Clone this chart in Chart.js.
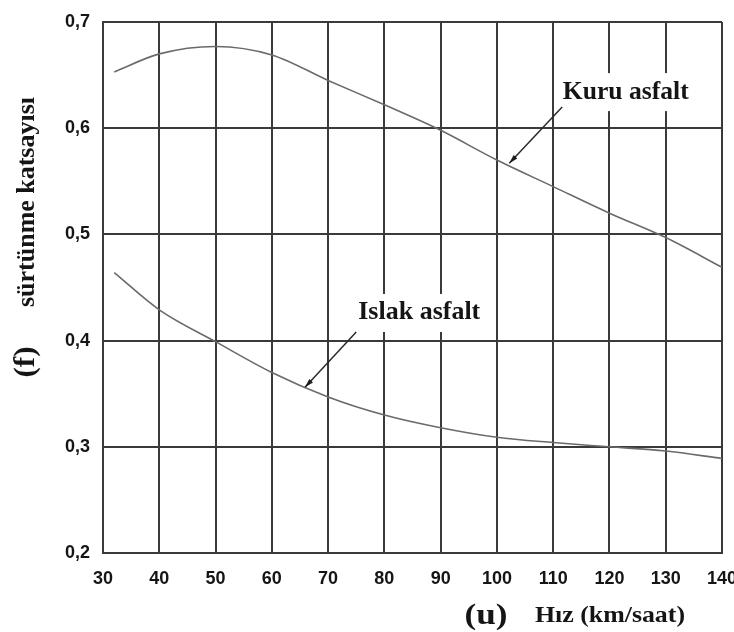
<!DOCTYPE html>
<html>
<head>
<meta charset="utf-8">
<script src="https://cdn.jsdelivr.net/npm/chart.js@4.4.1/dist/chart.umd.min.js"></script>
<style>
    html, body { margin: 0; padding: 0; background: #fff; }
    #wrap { width: 734px; height: 632px; position: relative; }
</style>
</head>
<body>
<div id="wrap"><canvas id="friction-chart"></canvas></div>
<script>
// Values.
const SPEEDS = [32, 40, 50, 60, 70, 80, 90, 100, 110, 120, 130, 140];
const KURU   = [0.653, 0.670, 0.677, 0.669, 0.645, 0.622, 0.598, 0.570, 0.545, 0.520, 0.497, 0.469];
const ISLAK  = [0.464, 0.429, 0.399, 0.370, 0.347, 0.330, 0.318, 0.309, 0.304, 0.300, 0.296, 0.289];

const X_MIN = 30, X_MAX = 140, X_STEP = 10;
const Y_MIN = 0.2, Y_MAX = 0.7, Y_STEP = 0.1;

// Curve labels: text centre, arrow start, arrow tip (data units).
const NOTES = [
    { text: 'Kuru asfalt',  at: [122.9, 0.634], from: [111.6, 0.620], to: [102.2, 0.567], w: 126 },
    { text: 'Islak asfalt', at: [86.2, 0.426],  from: [75.0, 0.408],  to: [65.9, 0.356],  w: 122 },
];

const GRID = '#3a3a3a';
const INK = '#151515';
const SERIF = '"Liberation Serif", "Times New Roman", serif';

function fmtComma(v) {
    return Number(v).toFixed(1).replace('.', ',');
}

function fitText(ctx, text, x, y, px, width, rot) {
    ctx.save();
    ctx.translate(x, y);
    if (rot) ctx.rotate(rot);
    ctx.font = `bold ${px}px ${SERIF}`;
    const w = ctx.measureText(text).width;
    if (width) ctx.scale(width / w, 1);
    ctx.textAlign = 'center';
    ctx.textBaseline = 'middle';
    ctx.fillStyle = INK;
    ctx.fillText(text, 0, 0);
    ctx.restore();
}

const notesPlugin = {
    id: 'notes',
    afterDatasetsDraw(chart) {
        const { ctx, scales: { x, y } } = chart;
        NOTES.forEach(n => {
            const cx = x.getPixelForValue(n.at[0]);
            const cy = y.getPixelForValue(n.at[1]);
            // white box breaks the grid behind the text
            ctx.save();
            ctx.fillStyle = '#fff';
            ctx.fillRect(cx - n.w / 2 - 8, cy - 19, n.w + 16, 38);
            ctx.restore();
            fitText(ctx, n.text, cx, cy, 25, n.w);

            const x1 = x.getPixelForValue(n.from[0]), y1 = y.getPixelForValue(n.from[1]);
            const x2 = x.getPixelForValue(n.to[0]),   y2 = y.getPixelForValue(n.to[1]);
            ctx.save();
            ctx.strokeStyle = '#2a2a2a';
            ctx.fillStyle = '#1a1a1a';
            ctx.lineWidth = 1.5;
            ctx.beginPath();
            ctx.moveTo(x1, y1);
            ctx.lineTo(x2, y2);
            ctx.stroke();
            const a = Math.atan2(y2 - y1, x2 - x1);
            ctx.beginPath();
            ctx.moveTo(x2, y2);
            ctx.lineTo(x2 - 9 * Math.cos(a) + 2.5 * Math.sin(a), y2 - 9 * Math.sin(a) - 2.5 * Math.cos(a));
            ctx.lineTo(x2 - 9 * Math.cos(a) - 2.5 * Math.sin(a), y2 - 9 * Math.sin(a) + 2.5 * Math.cos(a));
            ctx.closePath();
            ctx.fill();
            ctx.restore();
        });
    },
    afterDraw(chart) {
        const { ctx } = chart;
        // y-axis title, rotated
        fitText(ctx, 'sürtünme katsayısı', 27, 202, 26, 210, -Math.PI / 2);
        fitText(ctx, '(f)', 26, 362, 30, 31, -Math.PI / 2);
        // x-axis title
        fitText(ctx, '(u)', 486, 616, 30, 43);
        fitText(ctx, 'Hız (km/saat)', 610, 616, 24, 150);
    },
};

const tickFont = { family: '"Liberation Sans", Arial, sans-serif', size: 18, weight: 'bold' };

new Chart(document.getElementById('friction-chart'), {
    type: 'line',
    data: {
        datasets: [
            { label: 'Kuru asfalt',  data: SPEEDS.map((s, i) => ({ x: s, y: KURU[i] })) },
            { label: 'Islak asfalt', data: SPEEDS.map((s, i) => ({ x: s, y: ISLAK[i] })) },
        ].map(d => ({
            ...d,
            borderColor: '#6a6a6a',
            borderWidth: 1.6,
            pointRadius: 0,
            fill: false,
            cubicInterpolationMode: 'monotone',
        })),
    },
    options: {
        responsive: true,
        maintainAspectRatio: false,
        animation: false,
        layout: { padding: { top: 22, right: 12, left: 0, bottom: 0 } },
        plugins: { legend: { display: false }, tooltip: { enabled: false } },
        scales: {
            x: {
                type: 'linear',
                min: X_MIN, max: X_MAX,
                ticks: { stepSize: X_STEP, color: INK, font: tickFont, padding: 15, maxRotation: 0 },
                grid: { color: GRID, lineWidth: 2, drawTicks: false },
                border: { color: GRID, width: 2 },
                afterFit(scale) { scale.height = 79; scale.paddingLeft = 0; scale.paddingRight = 0; },
            },
            y: {
                min: Y_MIN, max: Y_MAX,
                ticks: { stepSize: Y_STEP, color: INK, font: tickFont, padding: 13, callback: v => fmtComma(v) },
                grid: { color: GRID, lineWidth: 2, drawTicks: false },
                border: { color: GRID, width: 2 },
                afterFit(scale) { scale.width = 103; scale.paddingTop = 0; scale.paddingBottom = 0; },
            },
        },
    },
    plugins: [notesPlugin],
});
</script>
</body>
</html>
